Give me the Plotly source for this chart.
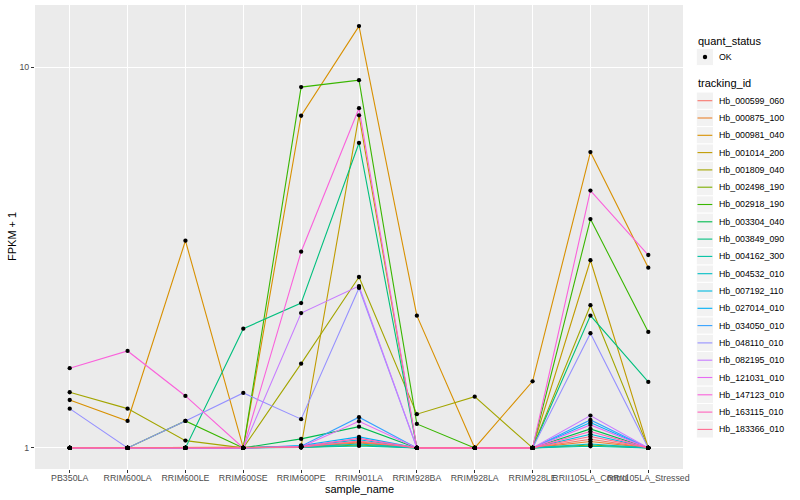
import plotly.graph_objects as go

samples = ["PB350LA", "RRIM600LA", "RRIM600LE", "RRIM600SE", "RRIM600PE", "RRIM901LA",
           "RRIM928BA", "RRIM928LA", "RRIM928LE", "RRII105LA_Control", "RRII105LA_Stressed"]

tracking_ids = ["Hb_000599_060", "Hb_000875_100", "Hb_000981_040", "Hb_001014_200", "Hb_001809_040",
                "Hb_002498_190", "Hb_002918_190", "Hb_003304_040", "Hb_003849_090", "Hb_004162_300",
                "Hb_004532_010", "Hb_007192_110", "Hb_027014_010", "Hb_034050_010", "Hb_048110_010",
                "Hb_082195_010", "Hb_121031_010", "Hb_147123_010", "Hb_163115_010", "Hb_183366_010"]

colors = ["#F8766D", "#EA8331", "#D89000", "#C09B00", "#A3A500", "#7CAE00", "#39B600", "#00BB4E",
          "#00BF7D", "#00C1A3", "#00BFC4", "#00BAE0", "#00B0F6", "#35A2FF", "#9590FF", "#C77CFF",
          "#E76BF3", "#FA62DB", "#FF62BC", "#FF6C91"]

# FPKM + 1 per sample (order of `samples`)
hb_000599_060 = [1, 1, 1, 1, 1.008, 1.037, 1, 1, 1, 1.054, 1]
hb_000875_100 = [1, 1, 1, 1, 1.004, 1.031, 1, 1, 1, 1.039, 1]
hb_000981_040 = [1.336, 1.177, 3.50, 1, 7.45, 12.81, 2.225, 1, 1.496, 5.98, 2.973]
hb_001014_200 = [1, 1, 1, 1, 1.01, 7.47, 1, 1, 1, 3.11, 1]
hb_001809_040 = [1.40, 1.268, 1.045, 1, 1.664, 2.81, 1.226, 1.363, 1, 2.37, 1]
hb_002498_190 = [1, 1, 1, 1, 1.003, 1.018, 1, 1, 1, 1.018, 1]
hb_002918_190 = [1, 1, 1.177, 1, 8.86, 9.24, 1.156, 1, 1, 3.99, 2.016]
hb_003304_040 = [1, 1, 1, 1, 1.056, 1.137, 1, 1, 1, 1.122, 1]
hb_003849_090 = [1, 1, 1, 2.056, 2.40, 6.32, 1, 1, 1, 2.225, 1.49]
hb_004162_300 = [1, 1, 1, 1, 1.002, 1.012, 1, 1, 1, 1.01, 1]
hb_004532_010 = [1, 1, 1, 1, 1.005, 1.024, 1, 1, 1, 1.024, 1]
hb_007192_110 = [1, 1, 1, 1, 1.012, 1.05, 1, 1, 1, 1.086, 1]
hb_027014_010 = [1, 1, 1, 1, 1.015, 1.069, 1, 1, 1, 1.166, 1]
hb_034050_010 = [1, 1, 1, 1, 1.01, 1.204, 1, 1, 1, 1.184, 1]
hb_048110_010 = [1.268, 1, 1.177, 1.394, 1.19, 2.63, 1, 1, 1, 2.0, 1]
hb_082195_010 = [1, 1, 1, 1, 2.26, 2.66, 1, 1, 1, 1.216, 1]
hb_121031_010 = [1, 1, 1, 1, 1.006, 1.175, 1, 1, 1, 1.149, 1]
hb_147123_010 = [1.619, 1.797, 1.369, 1, 3.275, 7.80, 1, 1, 1, 4.74, 3.21]
hb_163115_010 = [1, 1, 1, 1, 1.008, 1.059, 1, 1, 1, 1.104, 1]
hb_183366_010 = [1, 1, 1, 1, 1.004, 1.043, 1, 1, 1, 1.071, 1]

series = [hb_000599_060, hb_000875_100, hb_000981_040, hb_001014_200, hb_001809_040,
          hb_002498_190, hb_002918_190, hb_003304_040, hb_003849_090, hb_004162_300,
          hb_004532_010, hb_007192_110, hb_027014_010, hb_034050_010, hb_048110_010,
          hb_082195_010, hb_121031_010, hb_147123_010, hb_163115_010, hb_183366_010]

quant_status = ["OK"]
y_ticks = [1, 10]
y_tick_labels = ["1", "10"]

FONT = "Liberation Sans, Arial, Helvetica, sans-serif"

# plot-area geometry (pixels in the 800x500 page)
L, R, T, B = 35, 683, 5, 469
W, H = R - L, B - T


def px(xp):
    return (xp - L) / W


def py(yp):
    return (B - yp) / H


fig = go.Figure()

for tid, col, vals in zip(tracking_ids, colors, series):
    fig.add_trace(go.Scatter(x=samples, y=vals, mode="lines", name=tid,
                             line=dict(color=col, width=1.1), showlegend=False,
                             hoverinfo="x+y+name"))

for tid, vals in zip(tracking_ids, series):
    fig.add_trace(go.Scatter(x=samples, y=vals, mode="markers", name=tid,
                             marker=dict(color="black", size=4.3), showlegend=False,
                             hoverinfo="x+y+name"))

shapes = []
annotations = []

# minor gridline at sqrt(10)
shapes.append(dict(type="line", xref="paper", yref="y", x0=0, x1=1, y0=0.5, y1=0.5,
                   line=dict(color="white", width=0.55), layer="below"))

# axis titles
annotations.append(dict(text="sample_name", xref="paper", yref="paper", x=px(359), y=py(489),
                        showarrow=False, xanchor="center", yanchor="middle",
                        font=dict(family=FONT, size=11, color="black")))
annotations.append(dict(text="FPKM + 1", xref="paper", yref="paper", x=px(12), y=0.5,
                        showarrow=False, xanchor="center", yanchor="middle", textangle=-90,
                        font=dict(family=FONT, size=11, color="black")))

# legend: quant_status
annotations.append(dict(text="quant_status", xref="paper", yref="paper", x=px(696), y=py(40.7),
                        showarrow=False, xanchor="left", yanchor="middle",
                        font=dict(family=FONT, size=11, color="black")))
key = 17.3
for i, q in enumerate(quant_status):
    cy = 57 + i * key
    shapes.append(dict(type="rect", xref="paper", yref="paper",
                       x0=px(696.3), x1=px(696.3 + key), y0=py(cy + key / 2), y1=py(cy - key / 2),
                       fillcolor="#F2F2F2", line=dict(color="white", width=1)))
    shapes.append(dict(type="circle", xref="paper", yref="paper",
                       x0=px(705 - 2.2), x1=px(705 + 2.2), y0=py(cy + 2.2), y1=py(cy - 2.2),
                       fillcolor="black", line=dict(color="black", width=0)))
    annotations.append(dict(text=q, xref="paper", yref="paper", x=px(716.5), y=py(cy),
                            showarrow=False, xanchor="left", yanchor="middle",
                            font=dict(family=FONT, size=8.8, color="black")))

# legend: tracking_id
annotations.append(dict(text="tracking_id", xref="paper", yref="paper", x=px(696), y=py(83.3),
                        showarrow=False, xanchor="left", yanchor="middle",
                        font=dict(family=FONT, size=11, color="black")))
for i, (tid, col) in enumerate(zip(tracking_ids, colors)):
    cy = 100.7 + i * key
    shapes.append(dict(type="rect", xref="paper", yref="paper",
                       x0=px(696.3), x1=px(696.3 + key), y0=py(cy + key / 2), y1=py(cy - key / 2),
                       fillcolor="#F2F2F2", line=dict(color="white", width=1)))
    shapes.append(dict(type="line", xref="paper", yref="paper",
                       x0=px(697.5), x1=px(712.3), y0=py(cy), y1=py(cy),
                       line=dict(color=col, width=1.1)))
    annotations.append(dict(text=tid, xref="paper", yref="paper", x=px(716.5), y=py(cy),
                            showarrow=False, xanchor="left", yanchor="middle",
                            font=dict(family=FONT, size=8.8, color="black")))

fig.update_layout(
    width=800, height=500,
    margin=dict(l=L, r=800 - R, t=T, b=500 - B, pad=0, autoexpand=False),
    paper_bgcolor="white",
    plot_bgcolor="#EBEBEB",
    font=dict(family=FONT, size=9, color="black"),
    showlegend=False,
    shapes=shapes,
    annotations=annotations,
    xaxis=dict(type="category", categoryorder="array", categoryarray=samples,
               range=[-0.6, len(samples) - 1 + 0.6], automargin=False,
               showgrid=True, gridcolor="white", gridwidth=1.1, zeroline=False, showline=False,
               ticks="outside", ticklen=3, tickwidth=1, tickcolor="#333333", tickangle=0,
               ticklabelstandoff=-3,
               tickfont=dict(family=FONT, size=8.8, color="#4D4D4D")),
    yaxis=dict(type="log", range=[-0.0554, 1.163], tickvals=y_ticks, ticktext=y_tick_labels,
               automargin=False,
               showgrid=True, gridcolor="white", gridwidth=1.1, zeroline=False, showline=False,
               ticks="outside", ticklen=3, tickwidth=1, tickcolor="#333333",
               tickfont=dict(family=FONT, size=8.8, color="#4D4D4D")),
)

fig.write_html("out.html", config={"displayModeBar": False},
               post_script="document.body.style.margin='0';document.body.style.overflow='hidden';")
